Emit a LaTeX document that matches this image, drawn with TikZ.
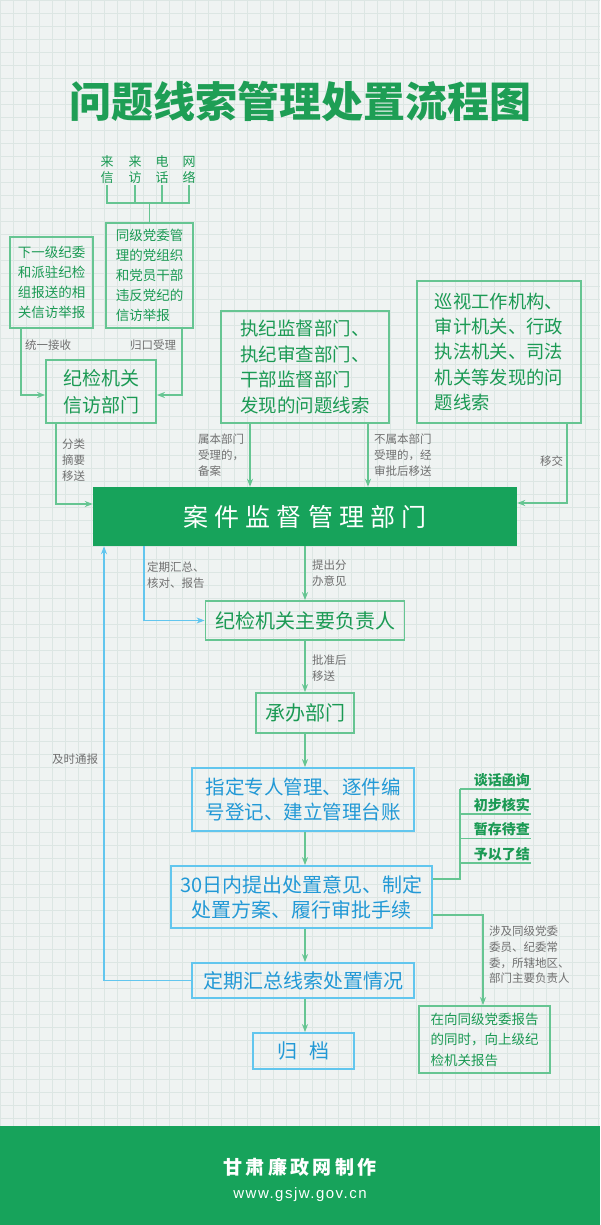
\documentclass[tikz,border=0pt]{standalone}
\usepackage{fontspec}
\setmainfont{Noto Sans CJK SC}
\newfontfamily\urlfont{Liberation Sans}
\usetikzlibrary{arrows.meta}
\definecolor{bg}{HTML}{EFF3F2}
\definecolor{gridc}{HTML}{DCE6E3}
\definecolor{gline}{HTML}{66C592}
\definecolor{gtext}{HTML}{1B9A54}
\definecolor{gfill}{HTML}{17A35B}
\definecolor{bline}{HTML}{62C6EE}
\definecolor{btext}{HTML}{2299D6}
\definecolor{lblgray}{HTML}{707070}
\definecolor{titleg}{HTML}{1E9E55}
\begin{document}
\begin{tikzpicture}[x=1pt,y=-1pt,
  gbox/.style={draw=gline,line width=1.8pt,text=gtext,inner sep=0pt,align=left},
  bbox/.style={draw=bline,line width=1.8pt,text=btext,inner sep=0pt,align=center},
  gconn/.style={draw=gline,line width=1.5pt},
  garr/.style={gconn,-{Stealth[length=8pt,width=6pt,inset=2.5pt]}},
  barr/.style={draw=bline,line width=1.5pt,-{Stealth[length=8pt,width=6pt,inset=2.5pt]}},
  lbl/.style={text=lblgray,font=\fontsize{11.5}{16}\selectfont,align=left,anchor=west,inner sep=0pt},
  src/.style={text=gtext,font=\fontsize{13}{16}\selectfont,align=center,inner sep=1pt},
  opt/.style={text=gtext,font=\bfseries\fontsize{14}{16}\selectfont,inner xsep=1pt,inner ysep=2pt,anchor=south east},
  chain/.style={font=\fontsize{20}{25}\selectfont}
]
\useasboundingbox (0,0) rectangle (600,1225);
\fill[bg] (0,0) rectangle (600,1225);
\draw[gridc,line width=0.5pt] (0,0) grid[step=13pt] (600,1126);

% title
\node[text=titleg,font=\bfseries\fontsize{42}{46}\selectfont] (title) at (300,101) {\special{pdf:content 2 Tr 1.2 w 1 j 0.118 0.620 0.333 RG}问题线索管理处置流程图\special{pdf:content 0 Tr}};

% sources
\node[src] (s1) at (107,170) {来\\信};
\node[src] (s2) at (135,170) {来\\访};
\node[src] (s3) at (162,170) {电\\话};
\node[src] (s4) at (189,170) {网\\络};
\coordinate (bus) at (0,203);

% top boxes
\node[gbox,minimum width=83,minimum height=91,font=\fontsize{13.5}{20}\selectfont] (b1) at (51.5,282.5) {下一级纪委\\和派驻纪检\\组报送的相\\关信访举报};
\node[gbox,minimum width=87,minimum height=105,font=\fontsize{13.5}{20}\selectfont] (b2) at (149.5,275.5) {同级党委管\\理的党组织\\和党员干部\\违反党纪的\\信访举报};
\node[gbox,minimum width=110,minimum height=63,align=center,font=\fontsize{19}{27}\selectfont] (b3) at (101,391.5) {纪检机关\\信访部门};
\node[gbox,minimum width=168,minimum height=112,font=\fontsize{18.5}{25.7}\selectfont] (b4) at (305,367) {执纪监督部门、\\执纪审查部门、\\干部监督部门\\发现的问题线索};
\node[gbox,minimum width=164,minimum height=142,font=\fontsize{18.3}{25.3}\selectfont] (b5) at (499,352) {巡视工作机构、\\审计机关、行政\\执法机关、司法\\机关等发现的问\\题线索};

\draw[gconn] (s1.south) -- (s1.south |- bus) -- (s4.south |- bus) -- (s4.south);
\draw[gconn] (s2.south) -- (s2.south |- bus);
\draw[gconn] (s3.south) -- (s3.south |- bus);
\draw[gconn] (b2.north) -- (b2.north |- bus);

% main
\node[fill=gfill,minimum width=424,minimum height=59,inner sep=0pt,text=white,font=\fontsize{25}{30}\selectfont\addfontfeatures{LetterSpace=25}] (main) at (305,516.5) {案件监督管理部门};

\coordinate (k1) at (21,395);
\coordinate (k2) at (182,395);
\coordinate (k3) at (56,504);
\coordinate (k4) at (250,0);
\coordinate (k5) at (368,0);
\coordinate (k6) at (567,503);
\draw[garr] (b1.south -| k1) |- (b3.west |- k1);
\draw[garr] (b2.south -| k2) |- (b3.east |- k2);
\draw[garr] (b3.south -| k3) |- (main.west |- k3);
\draw[garr] (b4.south -| k4) -- (main.north -| k4);
\draw[garr] (b4.south -| k5) -- (main.north -| k5);
\draw[garr] (b5.south -| k6) |- (main.east |- k6);

\node[lbl] (l1) at (25,345) {统一接收};
\node[lbl] (l2) at (130,345) {归口受理};
\node[lbl] (l3) at (62,460) {分类\\摘要\\移送};
\node[lbl] (l4) at (198,455) {属本部门\\受理的，\\备案};
\node[lbl] (l5) at (374,455) {不属本部门\\受理的，经\\审批后移送};
\node[lbl] (l6) at (540,461) {移交};

% chain
\node[gbox,chain,minimum width=199,minimum height=39,align=center] (lead) at (305,620.5) {纪检机关主要负责人};
\node[gbox,chain,minimum width=98,minimum height=40,align=center] (cb) at (305,713) {承办部门};
\node[bbox,font=\fontsize{19.5}{25}\selectfont,minimum width=222,minimum height=63] (p1) at (303,799.5) {指定专人管理、逐件编\\号登记、建立管理台账};
\node[bbox,chain,minimum width=261,minimum height=62] (p2) at (301.5,897) {30日内提出处置意见、制定\\处置方案、履行审批手续};
\node[bbox,chain,minimum width=222,minimum height=35] (p3) at (303,980.5) {定期汇总线索处置情况};
\node[bbox,chain,minimum width=101,minimum height=36] (p4) at (303.5,1051) {归\hspace{12pt}档};
\node[gbox,minimum width=131,minimum height=67,font=\fontsize{13.5}{20.5}\selectfont] (r) at (484.5,1039.5) {在向同级党委报告\\的同时，向上级纪\\检机关报告};

\coordinate (k7) at (144,621);
\coordinate (cx) at (305,0);
\draw[barr] (main.south -| k7) |- (lead.west);
\draw[garr] (main.south -| cx) -- (lead.north -| cx);
\draw[garr] (lead.south -| cx) -- (cb.north -| cx);
\draw[garr] (cb.south -| cx) -- (p1.north -| cx);
\draw[garr] (p1.south -| cx) -- (p2.north -| cx);
\draw[garr] (p2.south -| cx) -- (p3.north -| cx);
\draw[garr] (p3.south -| cx) -- (p4.north -| cx);

\node[lbl] (l7) at (147,575) {定期汇总、\\核对、报告};
\node[lbl] (l8) at (312,573.5) {提出分\\办意见};
\node[lbl] (l9) at (312,668) {批准后\\移送};

\coordinate (k8) at (104,0);
\draw[barr] (p3.west) -| (main.south -| k8);
\node[lbl] (l10) at (52,759) {及时通报};

% options
\node[opt] (o1) at (531,789) {谈话函询};
\node[opt] (o2) at (531,814) {初步核实};
\node[opt] (o3) at (531,838.5) {暂存待查};
\node[opt] (o4) at (531,863) {予以了结};
\coordinate (k10) at (460,879);
\draw[gconn] (p2.east |- k10) -- (k10) -- (k10 |- o1.south);
\draw[gconn] (k10 |- o1.south) -- (o1.south east);
\draw[gconn] (k10 |- o2.south) -- (o2.south east);
\draw[gconn] (k10 |- o3.south) -- (o3.south east);
\draw[gconn] (k10 |- o4.south) -- (o4.south east);

\coordinate (k11) at (483,915);
\draw[garr] (p2.east |- k11) -| (r.north -| k11);
\node[lbl,font=\fontsize{11.5}{15.7}\selectfont] (l11) at (489,955) {涉及同级党委\\委员、纪委常\\委，所辖地区、\\部门主要负责人};

% footer
\fill[gfill] (0,1126) rectangle (600,1225);
\node[text=white,font=\bfseries\fontsize{19}{22}\selectfont\addfontfeatures{LetterSpace=18}] (f1) at (300,1167) {甘肃廉政网制作};
\node[text=white,font=\urlfont\fontsize{15}{18}\selectfont\addfontfeatures{LetterSpace=10}] (f2) at (300,1195) {www.gsjw.gov.cn};
\end{tikzpicture}
\end{document}
